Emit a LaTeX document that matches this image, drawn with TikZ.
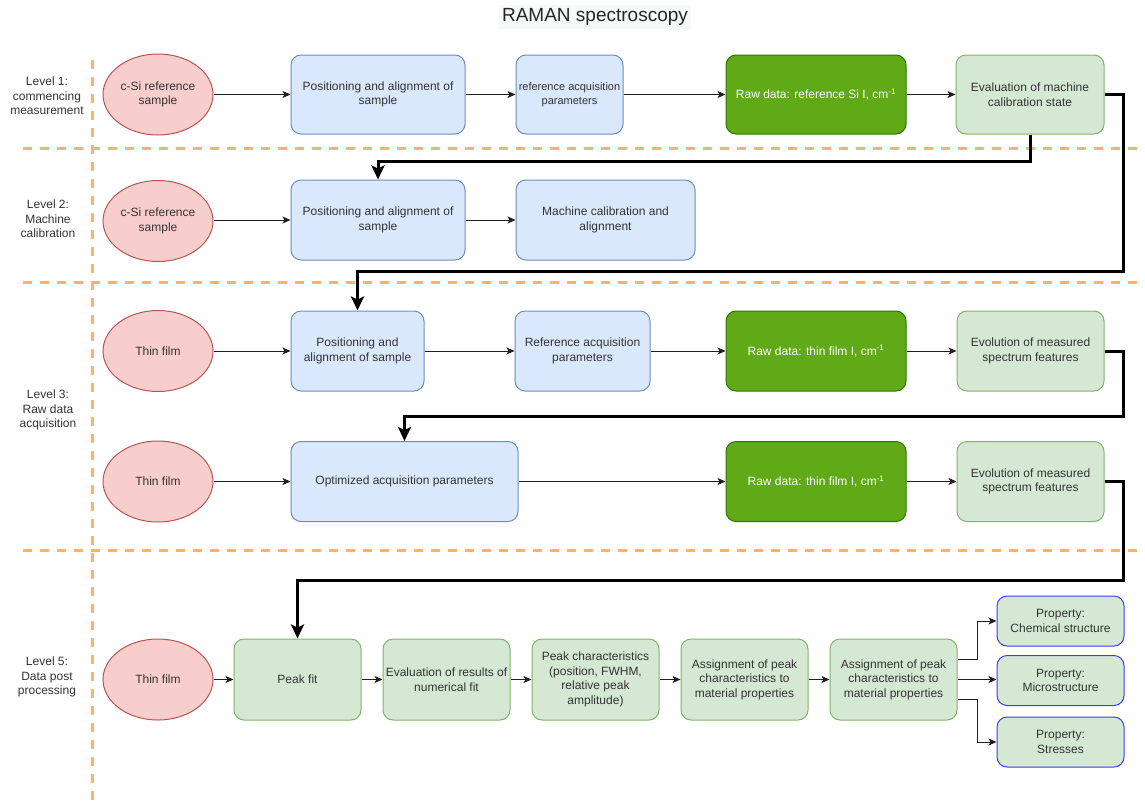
\documentclass[tikz,border=0pt]{standalone}
\usepackage{fontspec}
\setmainfont{Liberation Sans}
\usetikzlibrary{arrows.meta,shapes.geometric}

\definecolor{txt}{HTML}{333333}
\definecolor{edge}{HTML}{1F1F1F}
\definecolor{lanes}{HTML}{FFB366}
\definecolor{redfill}{HTML}{F8CECC}
\definecolor{reddraw}{HTML}{B85450}
\definecolor{bluefill}{HTML}{DAE8FC}
\definecolor{bluedraw}{HTML}{6C8EBF}
\definecolor{greenfill}{HTML}{D5E8D4}
\definecolor{greendraw}{HTML}{82B366}
\definecolor{darkfill}{HTML}{60A917}
\definecolor{darkdraw}{HTML}{2D7600}
\definecolor{propdraw}{HTML}{3B3BFF}
\definecolor{titlebg}{HTML}{F6F8FA}

\begin{document}
\begin{tikzpicture}[x=1pt,y=-1pt,
  basebox/.style={rounded corners=10pt, line width=1pt, align=center,
    font=\fontsize{12}{14.5}\selectfont, text=txt, inner sep=2pt},
  sz/.style 2 args={minimum width=#1, minimum height=#2},
  bluebox/.style={basebox, fill=bluefill, draw=bluedraw},
  greenbox/.style={basebox, fill=greenfill, draw=greendraw},
  darkbox/.style={basebox, fill=darkfill, draw=darkdraw, text=white},
  propbox/.style={basebox, fill=greenfill, draw=propdraw, sz={127pt}{50pt}},
  source/.style={ellipse, line width=1pt, fill=redfill, draw=reddraw, align=center,
    font=\fontsize{12}{14.5}\selectfont, text=txt, inner sep=0pt, sz={110pt}{81pt}},
  levellabel/.style={align=center, font=\fontsize{12}{14.5}\selectfont, text=txt},
  lane/.style={draw=lanes, line width=3pt, dash pattern=on 9pt off 8pt},
  arr/.style={draw=edge, line width=1pt, -{Stealth[length=8pt,width=7pt,inset=2pt]}},
  bigarr/.style={draw=black, line width=3pt, -{Stealth[length=14pt,width=13pt,inset=3pt]}}
]
\useasboundingbox (0,0) rectangle (1145,803);

% title
\node[fill=titlebg, inner sep=3pt, font=\fontsize{19}{22}\selectfont, text=black!85] (title) at (595,17) {RAMAN spectroscopy};

% swimlane separators
\draw[lane] (92,60) -- (92,803);
\draw[lane] (23,148) -- (1145,148);
\draw[lane] (23,282) -- (1145,282);
\draw[lane] (23,550) -- (1145,550);

% level labels
\node[levellabel] (lv1) at (47,96) {Level 1:\\commencing\\measurement};
\node[levellabel] (lv2) at (48,219) {Level 2:\\Machine\\calibration};
\node[levellabel] (lv3) at (48,410) {Level 3:\\Raw data\\acquisition};
\node[levellabel] (lv5) at (47,677) {Level 5:\\Data post\\processing};

% level 1
\node[source] (s1) at (158,94.5) {c-Si reference\\sample};
\node[bluebox, sz={174pt}{79pt}] (p1) at (378,94.5) {Positioning and alignment of\\sample};
\node[bluebox, sz={107pt}{79pt}, inner xsep=0pt, font=\fontsize{11}{14.5}\selectfont] (r1) at (569.5,94.5) {reference acquisition\\parameters};
\node[darkbox, sz={180pt}{79pt}] (d1) at (816,94.5) {Raw data: reference Si I, cm\textsuperscript{-1}};
\node[greenbox, sz={148pt}{79pt}] (e1) at (1030,94.5) {Evaluation of machine\\calibration state};

% level 2
\node[source] (s2) at (158,221) {c-Si reference\\sample};
\node[bluebox, sz={174pt}{80pt}] (p2) at (378,220) {Positioning and alignment of\\sample};
\node[bluebox, sz={179pt}{80pt}] (m2) at (605.5,220) {Machine calibration and\\alignment};

% level 3, first pass
\node[source] (s3) at (158,351) {Thin film};
\node[bluebox, sz={133pt}{80pt}] (p3) at (357.5,351) {Positioning and\\alignment of sample};
\node[bluebox, sz={135pt}{80pt}] (r3) at (582.5,351) {Reference acquisition\\parameters};
\node[darkbox, sz={180pt}{80pt}] (d3) at (816,351) {Raw data: thin film I, cm\textsuperscript{-1}};
\node[greenbox, sz={147pt}{80pt}] (v3) at (1030.5,351) {Evolution of measured\\spectrum features};

% level 3, second pass
\node[source] (s4) at (158,481.5) {Thin film};
\node[bluebox, sz={227pt}{80pt}] (o4) at (404.5,481.5) {Optimized acquisition parameters};
\node[darkbox, sz={180pt}{80pt}] (d4) at (816,481.5) {Raw data: thin film I, cm\textsuperscript{-1}};
\node[greenbox, sz={147pt}{80pt}] (v4) at (1030.5,481.5) {Evolution of measured\\spectrum features};

% level 5
\node[source] (s5) at (158,679.5) {Thin film};
\node[greenbox, sz={127pt}{81pt}] (pf) at (297.5,679.5) {Peak fit};
\node[greenbox, sz={127pt}{81pt}] (ev) at (446.5,679.5) {Evaluation of results of\\numerical fit};
\node[greenbox, sz={127pt}{81pt}] (pc) at (595.5,679.5) {Peak characteristics\\(position, FWHM,\\relative peak\\amplitude)};
\node[greenbox, sz={127pt}{81pt}] (a1) at (744.5,679.5) {Assignment of peak\\characteristics to\\material properties};
\node[greenbox, sz={127pt}{81pt}] (a2) at (893.5,679.5) {Assignment of peak\\characteristics to\\material properties};
\node[propbox] (pr1) at (1060.5,621) {Property:\\Chemical structure};
\node[propbox] (pr2) at (1060.5,680.5) {Property:\\Microstructure};
\node[propbox] (pr3) at (1060.5,742) {Property:\\Stresses};

% flow within each row
\draw[arr] (s1) -- (p1);
\draw[arr] (p1) -- (r1);
\draw[arr] (r1) -- (d1);
\draw[arr] (d1) -- (e1);

\draw[arr] (s2.east |- p2.west) -- (p2);
\draw[arr] (p2) -- (m2);

\draw[arr] (s3) -- (p3);
\draw[arr] (p3) -- (r3);
\draw[arr] (r3) -- (d3);
\draw[arr] (d3) -- (v3);

\draw[arr] (s4) -- (o4);
\draw[arr] (o4) -- (d4);
\draw[arr] (d4) -- (v4);

\draw[arr] (s5) -- (pf);
\draw[arr] (pf) -- (ev);
\draw[arr] (ev) -- (pc);
\draw[arr] (pc) -- (a1);
\draw[arr] (a1) -- (a2);
\draw[arr] ([yshift=20pt]a2.east) -- ++(20,0) |- (pr1.west);
\draw[arr] (a2.east) -- (a2.east -| pr2.west);
\draw[arr] ([yshift=-20pt]a2.east) -- ++(20,0) |- (pr3.west);

% hand-over between levels
\draw[bigarr] (e1.south) -- (e1.south |- 0,161) -| (p2.north);
\draw[bigarr] (e1.east) -| (1123,271) -| (p3.north);
\draw[bigarr] (v3.east) -| (1123,416) -| (o4.north);
\draw[bigarr] (v4.east) -| (1123,580) -| (pf.north);
\end{tikzpicture}
\end{document}
